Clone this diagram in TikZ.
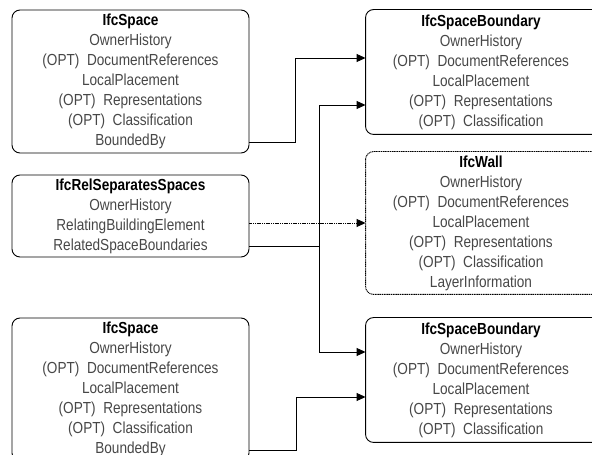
\documentclass[tikz,border=0pt]{standalone}
\usepackage{fontspec}
\setmainfont{Liberation Sans}[FakeStretch=0.85]
\usetikzlibrary{arrows.meta}
\tikzstyle{entity} = [rectangle, rounded corners=8pt,
minimum width=237pt,
minimum height=143pt,
align=center,
inner sep=0pt,
draw=black,
line width=0.9pt,
text=black!72,
font=\fontsize{16}{20}\selectfont]
% right-hand boxes run past the page edge, frame drawn apart
\tikzstyle{target} = [entity,
draw=none,
minimum width=230pt,
minimum height=124pt]
\tikzstyle{frame} = [rounded corners=8pt, line width=0.9pt]
\tikzstyle{arrow} = [line width=0.9pt, -{Triangle[length=9pt,width=8pt]}]
\tikzstyle{link} = [line width=0.9pt]
\tikzstyle{dasharrow} = [arrow, dash pattern=on 1.2pt off 0.6pt]
\newcommand{\entname}[1]{\textbf{\color{black}#1}}

\begin{document}
\begin{tikzpicture}[x=1pt, y=1pt]
	\useasboundingbox (0,0) rectangle (592,455);
	% left column
	\node (space1) [entity] at (130.5,373.5) {\entname{IfcSpace}\\ OwnerHistory\\ (OPT)\ \ DocumentReferences\\ LocalPlacement\\ (OPT)\ \ Representations\\ (OPT)\ \ Classification\\ BoundedBy};
	\node (relsep) [entity, minimum height=82pt] at (130.5,239) {\entname{IfcRelSeparatesSpaces}\\ OwnerHistory\\ RelatingBuildingElement\\ RelatedSpaceBoundaries};
	\node (space2) [entity] at (130.5,65.5) {\entname{IfcSpace}\\ OwnerHistory\\ (OPT)\ \ DocumentReferences\\ LocalPlacement\\ (OPT)\ \ Representations\\ (OPT)\ \ Classification\\ BoundedBy};
	% right column
	\node (boundary1) [target] at (481,383) {\entname{IfcSpaceBoundary}\\ OwnerHistory\\ (OPT)\ \ DocumentReferences\\ LocalPlacement\\ (OPT)\ \ Representations\\ (OPT)\ \ Classification};
	\node (wall) [target, minimum height=142pt] at (481,232) {\entname{IfcWall}\\ OwnerHistory\\ (OPT)\ \ DocumentReferences\\ LocalPlacement\\ (OPT)\ \ Representations\\ (OPT)\ \ Classification\\ LayerInformation};
	\node (boundary2) [target] at (481,75) {\entname{IfcSpaceBoundary}\\ OwnerHistory\\ (OPT)\ \ DocumentReferences\\ LocalPlacement\\ (OPT)\ \ Representations\\ (OPT)\ \ Classification};
	\draw [frame] (boundary1.north west) rectangle ([xshift=20pt]boundary1.south east);
	\draw [frame, dash pattern=on 1.2pt off 0.6pt] (wall.north west) rectangle ([xshift=20pt]wall.south east);
	\draw [frame] (boundary2.north west) rectangle ([xshift=20pt]boundary2.south east);

	% attachment points
	\coordinate (bb1) at ([yshift=11pt]space1.south east);
	\coordinate (bb2) at ([yshift=11pt]space2.south east);
	\coordinate (rbe) at ([yshift=-7pt]relsep.east);
	\coordinate (rsb) at ([yshift=-30pt]relsep.east);
	\coordinate (b1a) at ([yshift=14pt]boundary1.west);
	\coordinate (b1b) at ([yshift=-33pt]boundary1.west);
	\coordinate (b2a) at ([yshift=28pt]boundary2.west);
	\coordinate (b2b) at ([yshift=-17pt]boundary2.west);

	\draw [arrow] (bb1) -- ++(46,0) |- (b1a);
	\draw [dasharrow] (rbe) -- (rbe -| wall.west);
	\draw [link] (rsb) -- ++(70,0) coordinate (split);
	\draw [arrow] (split) |- (b1b);
	\draw [arrow] (split) |- (b2a);
	\draw [arrow] (bb2) -- ++(47,0) |- (b2b);
\end{tikzpicture}
\end{document}
